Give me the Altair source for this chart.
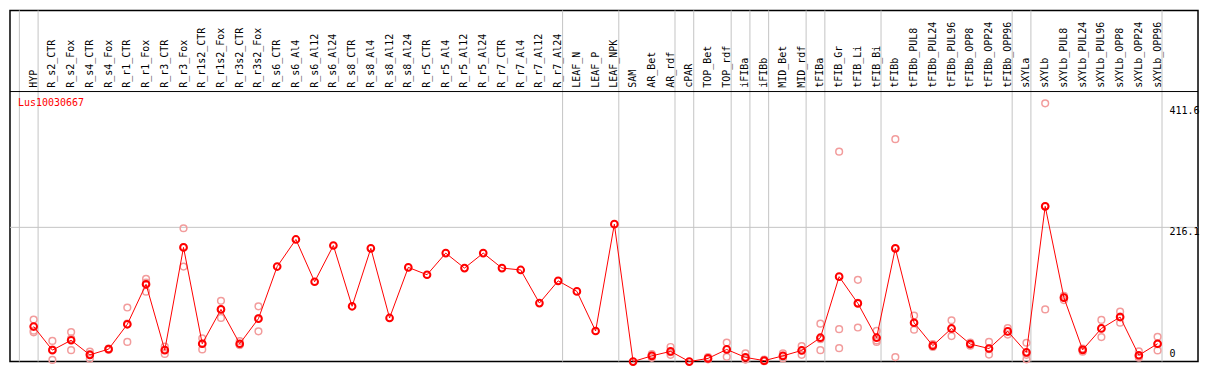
import altair as alt
import pandas as pd

gene = "Lus10030667"

categories = [
    "HYP", "R_s2_CTR", "R_s2_Fox", "R_s4_CTR", "R_s4_Fox", "R_r1_CTR", "R_r1_Fox",
    "R_r3_CTR", "R_r3_Fox", "R_r1s2_CTR", "R_r1s2_Fox", "R_r3s2_CTR", "R_r3s2_Fox",
    "R_s6_CTR", "R_s6_Al4", "R_s6_Al12", "R_s6_Al24", "R_s8_CTR", "R_s8_Al4",
    "R_s8_Al12", "R_s8_Al24", "R_r5_CTR", "R_r5_Al4", "R_r5_Al12", "R_r5_Al24",
    "R_r7_CTR", "R_r7_Al4", "R_r7_Al12", "R_r7_Al24", "LEAF_N", "LEAF_P", "LEAF_NPK",
    "SAM", "AR_Bet", "AR_rdf", "cPAR", "TOP_Bet", "TOP_rdf", "iFIBa", "iFIBb",
    "MID_Bet", "MID_rdf", "tFIBa", "tFIB_Gr", "tFIB_Li", "tFIB_Bi", "tFIBb",
    "tFIBb_PUL8", "tFIBb_PUL24", "tFIBb_PUL96", "tFIBb_OPP8", "tFIBb_OPP24",
    "tFIBb_OPP96", "sXYLa", "sXYLb", "sXYLb_PUL8", "sXYLb_PUL24", "sXYLb_PUL96",
    "sXYLb_OPP8", "sXYLb_OPP24", "sXYLb_OPP96",
]

means = [
    56.4, 18.4, 34.3, 10.8, 20.0, 60.0, 124.4, 18.4, 183.8, 28.7, 84.0, 28.7, 69.1,
    153.0, 196.6, 128.5, 186.9, 89.0, 182.3, 70.2, 151.6, 139.8, 174.6, 150.5, 174.6,
    150.5, 147.5, 94.2, 130.0, 113.0, 49.2, 221.2,
    0.0, 9.2, 16.4, 0.0, 5.1, 19.5, 6.7, 1.5, 9.2, 17.9, 38.4, 136.7, 93.7, 38.4, 182.3,
    62.5, 25.6, 53.3, 28.2, 21.0, 48.6, 14.9, 249.9, 102.9, 18.9, 53.3, 71.7, 10.2, 28.7,
]

N = None
rep1 = [
    67.6, 33.3, 47.6, 15.9, 21.0, 87.0, 133.0, 24.0, 214.6, 37.4, 97.8, 33.0, 89.0,
    N, N, N, N, N, N, N, N, N, N, N, N, N, N, N, N, N, N, N,
    N, 12.0, 23.5, N, 7.2, 30.7, 13.3, 3.0, 13.3, 25.0, 61.0, 338.0, 131.6, 49.6, 358.0,
    74.2, 28.0, 66.5, 30.7, 31.7, 53.8, 30.3, 415.8, 106.0, 21.0, 67.1, 80.3, 16.4, 40.0,
]
rep2 = [
    49.6, 2.6, 18.4, 4.6, 19.0, 31.7, 112.6, 12.3, 153.0, 19.5, 70.2, 26.6, 48.7,
    N, N, N, N, N, N, N, N, N, N, N, N, N, N, N, N, N, N, N,
    N, 6.0, 10.8, N, 3.6, 7.7, 3.6, 0.5, 5.1, 10.8, 18.4, 52.2, 54.8, 31.7, 7.2,
    51.2, 23.5, 41.0, 25.6, 11.3, 43.5, 3.6, 84.0, 99.0, 16.0, 39.4, 62.5, 6.1, 18.0,
]
rep3 = [
    47.1, 19.3, 37.0, 12.0, 20.0, 61.0, 127.0, 19.0, 184.0, 29.0, 84.0, 27.0, 69.6,
    N, N, N, N, N, N, N, N, N, N, N, N, N, N, N, N, N, N, N,
    N, 9.6, 15.0, N, 5.0, 20.0, 3.2, 1.0, 9.2, 18.0, 36.0, 21.5, 94.7, 34.0, 182.0,
    62.0, 25.0, 52.5, 28.3, 20.0, 48.5, 10.8, 250.0, 103.0, 19.0, 53.4, 72.3, 8.0, 28.0,
]

# last category index of each group (0 = left edge before the first group)
group_ends = [0, 1, 29, 32, 35, 36, 38, 39, 40, 42, 43, 46, 53, 54, 61]
grid_values = [216.1]
tick_labels = ["411.6", "216.1"]
tick_values = [411.6, 216.1]
zero_label = "0"

W, H = 1191, 352
HEADER_Y = 77.5
SEP_Y = 81.3
FONT = "DejaVu Sans Mono"

xs = alt.Scale(domain=[-0.2632, 63.158], nice=False, zero=False)
ys = alt.Scale(domain=[0, 565.3], nice=False, zero=False)

idx = list(range(1, len(categories) + 1))
df = pd.DataFrame({"idx": idx, "cat": categories, "mean": means})
rows = []
for i, a, b, c in zip(idx, rep1, rep2, rep3):
    for v in (a, b, c):
        if v is not None:
            rows.append({"idx": i, "value": v})
reps_df = pd.DataFrame(rows)
sep_df = pd.DataFrame({"pos": [g + 0.237 for g in group_ends]})
grid_df = pd.DataFrame({"v": grid_values})
tick_df = pd.DataFrame({"v": tick_values, "label": tick_labels})

X = lambda f: alt.X(f, type="quantitative", scale=xs, axis=None)
Y = lambda f: alt.Y(f, type="quantitative", scale=ys, axis=None)

vrules = alt.Chart(sep_df).mark_rule(color="#c4c4c4", strokeWidth=1).encode(
    x=X("pos"), y=alt.value(0), y2=alt.value(H)
)
hgrid = alt.Chart(grid_df).mark_rule(color="#c4c4c4", strokeWidth=1).encode(
    y=Y("v"), x=alt.value(0), x2=alt.value(W)
)
sep = alt.Chart(grid_df).mark_rule(color="black", strokeWidth=1).encode(
    y=alt.value(SEP_Y), x=alt.value(0), x2=alt.value(W)
)
header = alt.Chart(df).mark_text(
    angle=270, align="left", baseline="middle", font=FONT, fontSize=10, color="black"
).encode(x=X("idx"), y=alt.value(HEADER_Y), text="cat:N")

pinks = alt.Chart(reps_df).mark_point(
    shape="circle", filled=False, color="#f29c9c", size=45, strokeWidth=1.5, opacity=1
).encode(x=X("idx"), y=Y("value"))

line = alt.Chart(df).mark_line(color="#ff0000", strokeWidth=1).encode(
    x=X("idx"), y=Y("mean")
)
pts = alt.Chart(df).mark_point(
    shape="circle", filled=False, color="#ff0000", size=45, strokeWidth=2, opacity=1
).encode(x=X("idx"), y=Y("mean"))

ticks = alt.Chart(tick_df).mark_text(
    align="left", baseline="top", font=FONT, fontSize=10, color="black"
).encode(y=Y("v"), x=alt.value(1162.4), text="label:N")
zero = alt.Chart(pd.DataFrame({"label": [zero_label]})).mark_text(
    align="left", baseline="bottom", font=FONT, fontSize=10, color="black"
).encode(y=alt.value(H - 3), x=alt.value(1162.4), text="label:N")

title = alt.Chart(pd.DataFrame({"label": [gene]})).mark_text(
    align="left", baseline="alphabetic", font=FONT, fontSize=10, color="#ff0000"
).encode(x=alt.value(8), y=alt.value(95.6), text="label:N")

chart = alt.layer(
    vrules, hgrid, sep, header, pinks, line, pts, ticks, zero, title
).properties(width=W, height=H, padding=1).configure_view(
    stroke="black", strokeWidth=1.5
)

chart.save("out.html", embed_options={"renderer": "svg", "actions": False})
